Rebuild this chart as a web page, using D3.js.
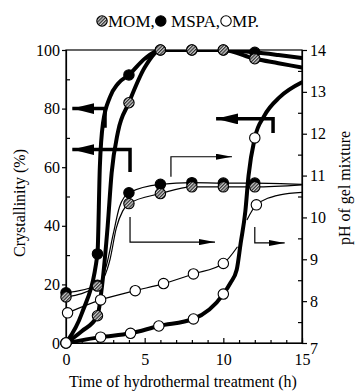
<!DOCTYPE html>
<html><head><meta charset="utf-8">
<script src="https://cdn.jsdelivr.net/npm/d3@7"></script>
<style>body{margin:0;background:#fff}svg{display:block}svg text{font-family:"Liberation Serif","Times New Roman",Times,"DejaVu Serif",serif !important;fill:#000}</style>
</head><body><svg id="c" width="356" height="391"></svg>
<script>
// ---------- data ----------
const xTicks = [0, 5, 10, 15];
const yLeftTicks = [0, 20, 40, 60, 80, 100];
const yRightTicks = [7, 8, 9, 10, 11, 12, 13, 14];
const seriesNames = ["MOM", "MSPA", "MP"];

// crystallinity markers (thick lines, left axis)
const mspaCrystT = [0, 2, 4, 6, 8, 10, 12];
const mspaCrystV = [0, 30.4, 91.5, 100, 100, 100, 99.2];
const momCrystT = [0, 2, 4, 6, 8, 10, 12];
const momCrystV = [0, 9.3, 82, 100, 100, 100, 97];
const mpCrystT = [0, 2.2, 4.1, 5.9, 8.1, 10, 12];
const mpCrystV = [0, 2, 3.3, 5.8, 8.2, 16.7, 70];
// crystallinity curves
const mspaCrystCurveT = [0, 1, 2, 2.15, 2.35, 2.8, 3.3, 4, 5, 6, 8, 10, 12, 13.5, 15];
const mspaCrystCurveV = [0, 10, 30.4, 60, 75, 84, 88.5, 91.5, 97, 100, 100, 100, 99.2, 98.3, 97.3];
const momCrystCurveT = [0, 1, 2, 2.3, 2.65, 2.9, 3.3, 4, 5, 6, 8, 10, 12, 13.5, 15];
const momCrystCurveV = [0, 4, 9.3, 20, 40, 58, 72, 82, 94, 100, 100, 100, 97, 95.5, 94];
const mpCrystCurveT = [0, 2.2, 4.1, 5.9, 8.1, 10, 10.45, 10.85, 11.1, 11.4, 11.6, 12, 12.6, 13.6, 15];
const mpCrystCurveV = [0, 2, 3.3, 5.8, 8.2, 16.7, 20.5, 25, 34, 45, 57, 70, 77.5, 84, 89];

// pH markers (thin lines, right axis)
const mspaPhT = [0, 2, 4, 6, 8, 10, 12];
const mspaPhV = [8.2, 8.38, 10.59, 10.79, 10.83, 10.82, 10.82];
const momPhT = [0, 2, 4, 6, 8, 10, 12];
const momPhV = [8.1, 8.36, 10.33, 10.57, 10.73, 10.73, 10.73];
const mpPhT = [0.1, 2.2, 4.4, 6.2, 8.1, 10, 12.1];
const mpPhV = [7.72, 8.03, 8.25, 8.42, 8.65, 8.9, 10.3];
// pH curves
const mspaPhCurveT = [0, 2, 2.6, 3.0, 3.4, 4, 6, 8, 10, 12, 15];
const mspaPhCurveV = [8.2, 8.38, 8.9, 9.6, 10.25, 10.59, 10.79, 10.83, 10.82, 10.82, 10.79];
const momPhCurveT = [0, 2, 2.8, 3.2, 3.6, 4, 6, 8, 10, 12, 15];
const momPhCurveV = [8.1, 8.36, 9.0, 9.75, 10.15, 10.33, 10.57, 10.73, 10.73, 10.73, 10.78];
const mpPhCurve1T = [0.1, 2.2, 4.4, 6.2, 8.1, 10, 10.9];
const mpPhCurve1V = [7.72, 8.03, 8.25, 8.42, 8.65, 8.9, 9.3];
const mpPhCurve2T = [11.5, 12.1, 13.6, 15];
const mpPhCurve2V = [9.94, 10.3, 10.54, 10.6];

// annotation arrows (data units): [t, value] points
const arrowsCryst = [
  [[2.48, 73.5], [2.48, 80], [0.4, 80]],
  [[4.07, 58.4], [4.07, 66], [0.4, 66]],
  [[13.16, 71.7], [13.16, 76.5], [9.54, 76.5]]
];
const arrowsPh = [
  [[6.67, 10.97], [6.67, 11.45], [10.55, 11.45]],
  [[4.07, 10.01], [4.07, 9.41], [9.47, 9.41]],
  [[12.0, 9.77], [12.0, 9.39], [13.9, 9.39]]
];

// ---------- chart ----------
const FONT = '"Liberation Serif","Times New Roman",Times,"DejaVu Serif",serif';
const svg = d3.select("#c");
const L = 66, R = 302, T = 50, B = 343;
const x = d3.scaleLinear().domain([0, 15]).range([L, R]);
const yL = d3.scaleLinear().domain([0, 100]).range([B, T]);
const yR = d3.scaleLinear().domain([7, 14]).range([B, T]);

const defs = svg.append("defs");
const pat = defs.append("pattern").attr("id", "hatch").attr("patternUnits", "userSpaceOnUse")
  .attr("width", 2.4).attr("height", 2.4).attr("patternTransform", "rotate(45)");
pat.append("rect").attr("width", 2.4).attr("height", 2.4).attr("fill", "#cfcfcf");
pat.append("line").attr("x1", 0.6).attr("y1", 0).attr("x2", 0.6).attr("y2", 2.4).attr("stroke", "#303030").attr("stroke-width", 1.2);
defs.append("clipPath").attr("id", "plotclip").append("rect").attr("x", L).attr("y", T).attr("width", R - L).attr("height", B - T);
defs.append("marker").attr("id", "headThin").attr("viewBox", "0 0 16 6").attr("refX", 16).attr("refY", 3)
  .attr("markerWidth", 16).attr("markerHeight", 6).attr("markerUnits", "userSpaceOnUse").attr("orient", "auto")
  .append("path").attr("d", "M0,0L16,3L0,6Z").attr("fill", "#000");
defs.append("marker").attr("id", "headThick").attr("viewBox", "0 0 22 11").attr("refX", 22).attr("refY", 5.5)
  .attr("markerWidth", 22).attr("markerHeight", 11).attr("markerUnits", "userSpaceOnUse").attr("orient", "auto")
  .append("path").attr("d", "M0,0L22,5.5L0,11Z").attr("fill", "#000");

// frame
svg.append("rect").attr("x", L).attr("y", T).attr("width", R - L).attr("height", B - T)
  .attr("fill", "none").attr("stroke", "#000").attr("stroke-width", 1.2);

// axes
const fs = 16;
const ax = svg.append("g").attr("transform", `translate(0,${B})`)
  .call(d3.axisBottom(x).tickValues(d3.range(0, 16, 1)).tickSize(-3).tickFormat(""));
ax.selectAll(".tick line").filter(d => d % 5 === 0).attr("y2", -5);
svg.append("g").attr("transform", `translate(0,${B})`)
  .call(d3.axisBottom(x).tickValues(xTicks).tickSize(0).tickPadding(11).tickFormat(d3.format("d")))
  .call(g => g.select(".domain").remove())
  .selectAll("text").attr("font-size", fs);

const al = svg.append("g").attr("transform", `translate(${L},0)`)
  .call(d3.axisLeft(yL).tickValues(yLeftTicks).tickSize(4).tickPadding(2).tickFormat(d3.format("d")));
al.selectAll("text").attr("font-size", fs);
svg.append("g").attr("transform", `translate(${L},0)`)
  .call(d3.axisRight(yL).tickValues(d3.range(10, 100, 20)).tickSize(4).tickFormat(""))
  .call(g => g.select(".domain").remove());

const ar = svg.append("g").attr("transform", `translate(${R},0)`)
  .call(d3.axisRight(yR).tickValues(yRightTicks).tickSize(5).tickPadding(3).tickFormat(d3.format("d")));
ar.selectAll("text").attr("font-size", fs);
ar.selectAll(".tick").filter(d => d === 7).select("text").attr("dy", "0.65em");
svg.append("g").attr("transform", `translate(${R},0)`)
  .call(d3.axisLeft(yR).tickValues(d3.range(7.5, 14, 1)).tickSize(4).tickFormat(""))
  .call(g => g.select(".domain").remove());
svg.selectAll(".domain, .tick line").attr("stroke", "#000").attr("stroke-width", 1.2);
svg.selectAll("g").attr("font-family", FONT);

// axis titles
svg.append("text").attr("x", 183).attr("y", 387).attr("text-anchor", "middle").attr("font-size", fs)
  .text("Time of hydrothermal treatment (h)");
svg.append("text").attr("transform", "translate(19,203) rotate(-90)").attr("text-anchor", "middle")
  .attr("dominant-baseline", "central").attr("font-size", fs).text("Crystallinity (%)");
svg.append("text").attr("transform", "translate(344,188) rotate(-90)").attr("text-anchor", "middle")
  .attr("dominant-baseline", "central").attr("font-size", fs).text("pH of gel mixture");

// lines
const zip = (a, b) => a.map((v, i) => [v, b[i]]);
const lineL = d3.line().x(d => x(d[0])).y(d => yL(d[1])).curve(d3.curveMonotoneX);
const lineR = d3.line().x(d => x(d[0])).y(d => yR(d[1])).curve(d3.curveMonotoneX);
const plot = svg.append("g").attr("clip-path", "url(#plotclip)");

[[mspaPhCurveT, mspaPhCurveV], [momPhCurveT, momPhCurveV], [mpPhCurve1T, mpPhCurve1V], [mpPhCurve2T, mpPhCurve2V]]
  .forEach(([t, v]) => plot.append("path").attr("d", lineR(zip(t, v))).attr("fill", "none")
    .attr("stroke", "#000").attr("stroke-width", 1.2));
[[mspaCrystCurveT, mspaCrystCurveV], [momCrystCurveT, momCrystCurveV], [mpCrystCurveT, mpCrystCurveV]]
  .forEach(([t, v]) => plot.append("path").attr("d", lineL(zip(t, v))).attr("fill", "none")
    .attr("stroke", "#000").attr("stroke-width", 4).attr("stroke-linecap", "round"));

// arrows
const arrowLine = d3.line();
arrowsCryst.forEach(pts => svg.append("path").attr("d", arrowLine(pts.map(p => [x(p[0]), yL(p[1])])))
  .attr("fill", "none").attr("stroke", "#000").attr("stroke-width", 3.5).attr("marker-end", "url(#headThick)"));
arrowsPh.forEach(pts => svg.append("path").attr("d", arrowLine(pts.map(p => [x(p[0]), yR(p[1])])))
  .attr("fill", "none").attr("stroke", "#000").attr("stroke-width", 1.2).attr("marker-end", "url(#headThin)"));

// markers
const fills = { MOM: "url(#hatch)", MSPA: "#000", MP: "#fff" };
function dots(t, v, y, name) {
  svg.append("g").selectAll("circle").data(zip(t, v)).join("circle")
    .attr("cx", d => x(d[0])).attr("cy", d => y(d[1])).attr("r", 5.2)
    .attr("fill", fills[name]).attr("stroke", "#000").attr("stroke-width", 1.1);
}
dots(mspaPhT, mspaPhV, yR, "MSPA");
dots(momPhT, momPhV, yR, "MOM");
dots(mpPhT, mpPhV, yR, "MP");
dots(mspaCrystT, mspaCrystV, yL, "MSPA");
dots(momCrystT, momCrystV, yL, "MOM");
dots(mpCrystT, mpCrystV, yL, "MP");

// legend
const leg = svg.append("g");
let lx = 97;
const labels = ["MOM,", "\u00a0MSPA,", "MP."];
seriesNames.forEach((n, i) => {
  leg.append("circle").attr("cx", lx + 5).attr("cy", 21).attr("r", 5.2)
    .attr("fill", fills[n]).attr("stroke", "#000").attr("stroke-width", 1.1);
  lx += 11;
  const tx = leg.append("text").attr("x", lx).attr("y", 26.5).attr("font-size", 17).text(labels[i]);
  lx += tx.node().getComputedTextLength() + 1;
});
</script></body></html>
